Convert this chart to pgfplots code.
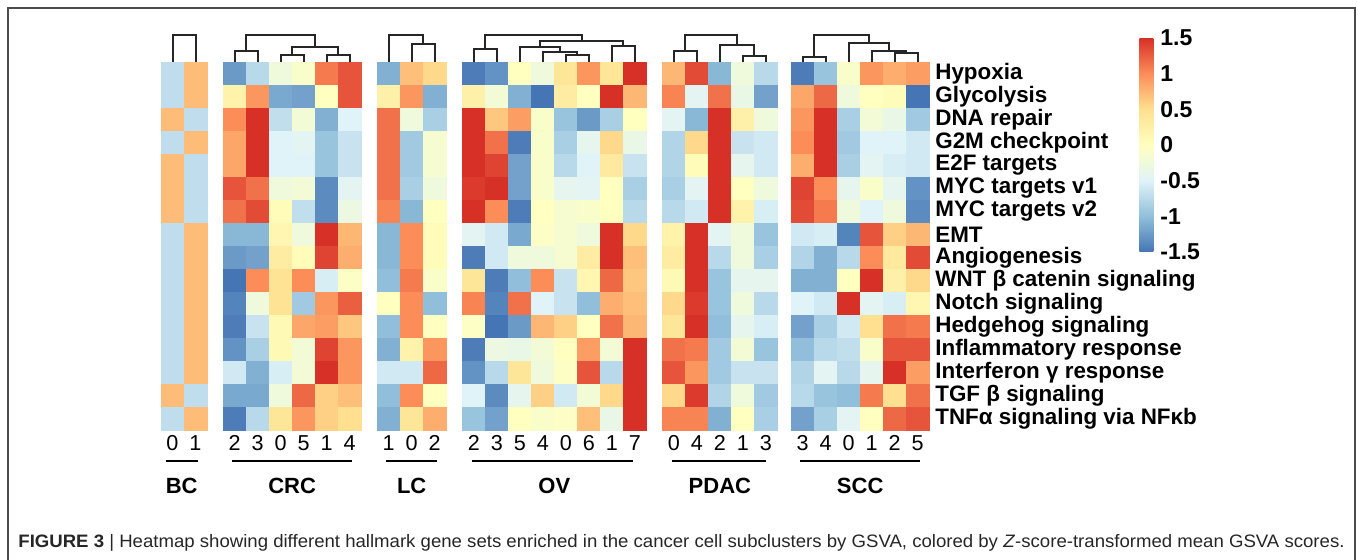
\documentclass[border=0pt]{standalone}
\usepackage{pgfplots}
\pgfplotsset{compat=1.18}
\usepackage{pgfplotstable}
\usepackage{graphicx}
\usepackage{fontspec}
\setmainfont{Liberation Sans}

\pgfplotstableread{
y c0 c1
15.5 -0.71 0.71
14.5 -0.71 0.71
13.5 0.71 -0.71
12.5 -0.71 0.71
11.5 0.71 -0.71
10.5 0.71 -0.71
9.5 0.71 -0.71
8.5 -0.71 0.71
7.5 -0.71 0.71
6.5 -0.71 0.71
5.5 -0.71 0.71
4.5 -0.71 0.71
3.5 -0.71 0.71
2.5 -0.71 0.71
1.5 0.71 -0.71
0.5 -0.71 0.71
}\BC

\pgfplotstableread{
y c2 c3 c0 c5 c1 c4
15.5 -1.25 -0.75 -0.25 -0.1 1.1 1.3
14.5 0.2 0.95 -1.15 -1.2 0.0 1.3
13.5 1.0 1.5 -0.7 -0.2 -1.1 -0.5
12.5 0.85 1.5 -0.5 -0.45 -0.95 -0.65
11.5 0.85 1.5 -0.5 -0.5 -0.95 -0.65
10.5 1.3 1.15 -0.25 -0.2 -1.35 -0.45
9.5 1.15 1.35 0.05 -0.7 -1.35 -0.3
8.5 -1.05 -1.05 0.15 -0.25 1.5 0.75
7.5 -1.25 -1.2 0.3 0.05 1.4 0.8
6.5 -1.5 1.0 0.45 1.0 -0.55 -0.05
5.5 -1.4 -0.25 0.45 -0.9 0.95 1.25
4.5 -1.45 -0.65 0.1 0.85 0.9 0.65
3.5 -1.3 -0.85 0.1 -0.2 1.4 0.95
2.5 -0.6 -1.1 -0.55 -0.2 1.5 0.95
1.5 -1.15 -1.15 -0.25 1.2 0.6 0.7
0.5 -1.45 -0.75 0.4 0.95 0.6 0.5
}\CRC

\pgfplotstableread{
y c1 c0 c2
15.5 -1.1 0.7 0.55
14.5 0.25 0.95 -1.1
13.5 1.15 -0.25 -0.85
12.5 1.15 -0.9 -0.15
11.5 1.15 -0.9 -0.15
10.5 1.15 -0.85 -0.25
9.5 1.05 -1.05 0.0
8.5 -1.05 1.0 0.05
7.5 -1.05 1.0 0.05
6.5 -1.0 1.1 -0.1
5.5 0.0 1.0 -1.0
4.5 -1.0 1.0 0.0
3.5 -1.1 0.2 0.95
2.5 -0.6 -0.6 1.2
1.5 -1.0 1.0 0.0
0.5 -1.1 0.4 0.8
}\LC

\pgfplotstableread{
y c2 c3 c5 c4 c0 c6 c1 c7
15.5 -1.45 -1.3 0.0 -0.25 0.4 0.95 0.4 1.5
14.5 0.25 -0.2 -1.1 -1.5 0.3 0.0 1.5 0.75
13.5 1.5 0.65 0.9 -0.1 -0.95 -1.25 -0.85 0.0
12.5 1.5 1.15 -1.45 -0.1 -0.85 -0.4 0.55 -0.35
11.5 1.5 1.4 -1.2 -0.1 -0.75 -0.5 0.35 -0.65
10.5 1.45 1.5 -1.2 -0.1 -0.4 -0.45 0.0 -0.85
9.5 1.5 1.0 -1.45 0.0 -0.15 -0.1 0.0 -0.75
8.5 -0.45 -0.6 -1.15 -0.05 -0.15 -0.25 1.5 0.55
7.5 -1.45 -0.6 -0.25 -0.25 -0.15 0.3 1.5 0.7
6.5 0.4 -1.45 -1.0 1.0 -0.65 0.15 1.2 0.65
5.5 1.05 -1.4 1.15 -0.5 -0.65 -1.0 0.8 0.7
4.5 -0.05 -1.5 -1.25 0.75 0.6 0.0 1.15 0.75
3.5 -1.45 -0.3 -0.35 -0.2 0.0 0.9 -0.2 1.5
2.5 -1.3 -0.75 0.4 -0.25 -0.05 1.3 -0.75 1.5
1.5 -0.5 -1.35 -0.4 0.6 -0.6 -0.2 0.55 1.5
0.5 -0.95 -1.2 0.0 -0.1 -0.05 0.7 -0.35 1.5
}\OV

\pgfplotstableread{
y c0 c4 c2 c1 c3
15.5 0.75 1.35 -1.05 -0.25 -0.75
14.5 1.05 -0.45 1.15 -0.35 -1.2
13.5 -0.45 -1.05 1.5 0.25 -0.25
12.5 -0.8 0.55 1.5 -0.65 -0.6
11.5 -0.8 0.05 1.5 -0.4 -0.6
10.5 -0.85 -0.45 1.5 0.0 -0.25
9.5 -0.75 -0.6 1.5 0.2 -0.55
8.5 0.2 1.5 -0.45 -0.25 -0.95
7.5 0.3 1.5 -0.75 -0.25 -0.85
6.5 0.1 1.5 -0.95 -0.4 -0.4
5.5 0.55 1.45 -0.95 -0.25 -0.75
4.5 0.4 1.5 -1.0 -0.4 -0.55
3.5 1.15 1.1 -0.9 -0.2 -0.95
2.5 1.3 0.95 -0.9 -0.65 -0.65
1.5 0.55 1.45 -0.8 -0.25 -0.9
0.5 1.05 1.05 -1.1 0.0 -0.85
}\PDAC

\pgfplotstableread{
y c3 c4 c0 c1 c2 c5
15.5 -1.45 -0.95 -0.1 0.95 0.8 0.9
14.5 0.85 1.2 -0.25 0.0 0.05 -1.5
13.5 0.95 1.5 -0.85 -0.2 -0.35 -0.9
12.5 1.0 1.5 -0.9 -0.5 -0.5 -0.6
11.5 0.8 1.5 -0.85 -0.45 -0.55 -0.6
10.5 1.4 1.0 -0.4 -0.1 -0.4 -1.3
9.5 1.35 1.1 -0.25 -0.5 -0.25 -1.35
8.5 -0.6 -0.55 -1.4 1.3 0.6 0.75
7.5 -0.8 -1.1 -0.75 1.0 0.35 1.35
6.5 -1.1 -1.1 0.0 1.5 0.25 0.55
5.5 -0.5 -0.6 1.5 -0.45 -0.55 0.15
4.5 -1.2 -0.85 -0.6 0.5 1.15 1.1
3.5 -1.0 -0.75 -0.7 -0.1 1.3 1.3
2.5 -0.8 -0.45 -0.75 -0.4 1.5 0.9
1.5 -0.75 -0.95 -1.0 1.1 0.5 1.15
0.5 -1.2 -0.85 -0.45 0.0 1.2 1.3
}\SCC

\pgfplotsset{
  cell/.style={scatter, only marks, mark=square*, mark size=5.75pt,
    line width=0.25pt,
    scatter/use mapped color={draw=mapped color, fill=mapped color},
    point meta=explicit},
  dendro/.style={black!85, line width=1pt, no markers, line join=miter},
}
\newcommand\merge[5]{\addplot[dendro] coordinates {(#1,#2) (#1,#5) (#3,#5) (#3,#4)};}
\newcommand\rowlab[2]{\node[anchor=west, inner sep=0pt, font=\bfseries\fontsize{11.2}{13}\selectfont] at (axis cs:33.65,#1) {#2};}
\newcommand\collab[2]{\node[anchor=base, inner sep=0pt, font=\fontsize{10.8}{12}\selectfont] at (axis cs:#1,-0.87) {#2};}

\begin{document}
\begin{tikzpicture}
\useasboundingbox (0,0) rectangle (679pt,280pt);
\draw[line width=1pt, color=black!70] (4pt,0pt) -- (4pt,276pt) -- (677.5pt,276pt) -- (677.5pt,0pt);
\node[anchor=base west, inner sep=0pt, text=black!85] at (9pt,6pt) {\resizebox{663pt}{\height}{\fontsize{9}{10}\selectfont\textbf{FIGURE 3} | Heatmap showing different hallmark gene sets enriched in the cancer cell subclusters by GSVA, colored by \textit{Z}-score-transformed mean GSVA scores.}};
\begin{axis}[
  at={(80.5pt,65pt)}, anchor=south west,
  x=11.5pt, y=11.5pt,
  xmin=0, xmax=33.4, ymin=0, ymax=16,
  axis line style={draw=none}, xtick=\empty, ytick=\empty,
  clip=false,
  colormap={rdylbu}{rgb255=(69,117,180) rgb255=(145,191,219) rgb255=(224,243,248) rgb255=(255,255,191) rgb255=(254,224,144) rgb255=(252,141,89) rgb255=(215,48,39)},
  point meta min=-1.5, point meta max=1.5,
  colorbar,
  colorbar style={
    at={(parent axis.north east)}, anchor=north west,
    xshift=96.5pt, yshift=12pt,
    width=7pt, height=107pt,
    axis line style={draw=none},
    xtick=\empty,
    ytick={-1.5,-1,-0.5,0,0.5,1,1.5},
    yticklabels={-1.5,-1,-0.5,0,0.5,1,1.5},
    major tick length=0pt,
    yticklabel style={font=\bfseries\fontsize{11.5}{13}\selectfont, anchor=west, xshift=0pt},
  },
]
% BC
\addplot[cell] table[x expr=0.5, y=y, meta=c0] {\BC};
\addplot[cell] table[x expr=1.5, y=y, meta=c1] {\BC};
% CRC
\addplot[cell] table[x expr=3.2, y=y, meta=c2] {\CRC};
\addplot[cell] table[x expr=4.2, y=y, meta=c3] {\CRC};
\addplot[cell] table[x expr=5.2, y=y, meta=c0] {\CRC};
\addplot[cell] table[x expr=6.2, y=y, meta=c5] {\CRC};
\addplot[cell] table[x expr=7.2, y=y, meta=c1] {\CRC};
\addplot[cell] table[x expr=8.2, y=y, meta=c4] {\CRC};
% LC
\addplot[cell] table[x expr=9.9, y=y, meta=c1] {\LC};
\addplot[cell] table[x expr=10.9, y=y, meta=c0] {\LC};
\addplot[cell] table[x expr=11.9, y=y, meta=c2] {\LC};
% OV
\addplot[cell] table[x expr=13.6, y=y, meta=c2] {\OV};
\addplot[cell] table[x expr=14.6, y=y, meta=c3] {\OV};
\addplot[cell] table[x expr=15.6, y=y, meta=c5] {\OV};
\addplot[cell] table[x expr=16.6, y=y, meta=c4] {\OV};
\addplot[cell] table[x expr=17.6, y=y, meta=c0] {\OV};
\addplot[cell] table[x expr=18.6, y=y, meta=c6] {\OV};
\addplot[cell] table[x expr=19.6, y=y, meta=c1] {\OV};
\addplot[cell] table[x expr=20.6, y=y, meta=c7] {\OV};
% PDAC
\addplot[cell] table[x expr=22.3, y=y, meta=c0] {\PDAC};
\addplot[cell] table[x expr=23.3, y=y, meta=c4] {\PDAC};
\addplot[cell] table[x expr=24.3, y=y, meta=c2] {\PDAC};
\addplot[cell] table[x expr=25.3, y=y, meta=c1] {\PDAC};
\addplot[cell] table[x expr=26.3, y=y, meta=c3] {\PDAC};
% SCC
\addplot[cell] table[x expr=27.9, y=y, meta=c3] {\SCC};
\addplot[cell] table[x expr=28.9, y=y, meta=c4] {\SCC};
\addplot[cell] table[x expr=29.9, y=y, meta=c0] {\SCC};
\addplot[cell] table[x expr=30.9, y=y, meta=c1] {\SCC};
\addplot[cell] table[x expr=31.9, y=y, meta=c2] {\SCC};
\addplot[cell] table[x expr=32.9, y=y, meta=c5] {\SCC};

% dendrograms
\merge{0.5}{16}{1.5}{16}{17.174}
\merge{3.2}{16}{4.2}{16}{16.478}
\merge{5.2}{16}{6.2}{16}{16.304}
\merge{7.2}{16}{8.2}{16}{16.304}
\merge{5.7}{16.304}{7.7}{16.304}{16.652}
\merge{3.7}{16.478}{6.7}{16.652}{17.174}
\merge{10.9}{16}{11.9}{16}{16.783}
\merge{9.9}{16}{11.4}{16.783}{17.174}
\merge{13.6}{16}{14.6}{16}{16.565}
\merge{17.6}{16}{18.6}{16}{16.304}
\merge{16.6}{16}{18.1}{16.304}{16.435}
\merge{15.6}{16}{17.35}{16.435}{16.652}
\merge{19.6}{16}{20.6}{16}{16.696}
\merge{16.475}{16.652}{20.1}{16.696}{16.913}
\merge{14.1}{16.565}{18.2875}{16.913}{17.174}
\merge{22.3}{16}{23.3}{16}{16.478}
\merge{25.3}{16}{26.3}{16}{16.261}
\merge{24.3}{16}{25.8}{16.261}{16.739}
\merge{22.8}{16.478}{25.05}{16.739}{17.174}
\merge{27.9}{16}{28.9}{16}{16.217}
\merge{31.9}{16}{32.9}{16}{16.391}
\merge{30.9}{16}{32.4}{16.391}{16.478}
\merge{29.9}{16}{31.65}{16.478}{16.826}
\merge{28.4}{16.217}{30.775}{16.826}{17.174}

% row labels
\rowlab{15.5}{Hypoxia}
\rowlab{14.5}{Glycolysis}
\rowlab{13.5}{DNA repair}
\rowlab{12.5}{G2M checkpoint}
\rowlab{11.5}{E2F targets}
\rowlab{10.5}{MYC targets v1}
\rowlab{9.5}{MYC targets v2}
\rowlab{8.5}{EMT}
\rowlab{7.5}{Angiogenesis}
\rowlab{6.5}{WNT β catenin signaling}
\rowlab{5.5}{Notch signaling}
\rowlab{4.5}{Hedgehog signaling}
\rowlab{3.5}{Inflammatory response}
\rowlab{2.5}{Interferon γ response}
\rowlab{1.5}{TGF β signaling}
\rowlab{0.5}{TNFα signaling via NFκb}

% column labels
\collab{0.5}{0}\collab{1.5}{1}
\collab{3.2}{2}\collab{4.2}{3}\collab{5.2}{0}\collab{6.2}{5}\collab{7.2}{1}\collab{8.2}{4}
\collab{9.9}{1}\collab{10.9}{0}\collab{11.9}{2}
\collab{13.6}{2}\collab{14.6}{3}\collab{15.6}{5}\collab{16.6}{4}\collab{17.6}{0}\collab{18.6}{6}\collab{19.6}{1}\collab{20.6}{7}
\collab{22.3}{0}\collab{23.3}{4}\collab{24.3}{2}\collab{25.3}{1}\collab{26.3}{3}
\collab{27.9}{3}\collab{28.9}{4}\collab{29.9}{0}\collab{30.9}{1}\collab{31.9}{2}\collab{32.9}{5}

% group underlines and names
\draw[line width=1pt] (axis cs:0.2,-1.35) -- (axis cs:1.6,-1.35);
\draw[line width=1pt] (axis cs:3.1,-1.35) -- (axis cs:8.3,-1.35);
\draw[line width=1pt] (axis cs:9.8,-1.35) -- (axis cs:12.0,-1.35);
\draw[line width=1pt] (axis cs:13.5,-1.35) -- (axis cs:20.5,-1.35);
\draw[line width=1pt] (axis cs:22.2,-1.35) -- (axis cs:26.3,-1.35);
\draw[line width=1pt] (axis cs:27.8,-1.35) -- (axis cs:33.0,-1.35);
\foreach \xx/\nm in {0.9/BC, 5.7/CRC, 10.9/LC, 17.1/OV, 24.3/PDAC, 30.4/SCC}{
  \edef\tmp{\noexpand\node[anchor=base, inner sep=0pt, font=\noexpand\bfseries\noexpand\fontsize{11}{13}\noexpand\selectfont] at (axis cs:\xx,-2.78) {\nm};}
  \tmp
}
\end{axis}
\end{tikzpicture}
\end{document}
